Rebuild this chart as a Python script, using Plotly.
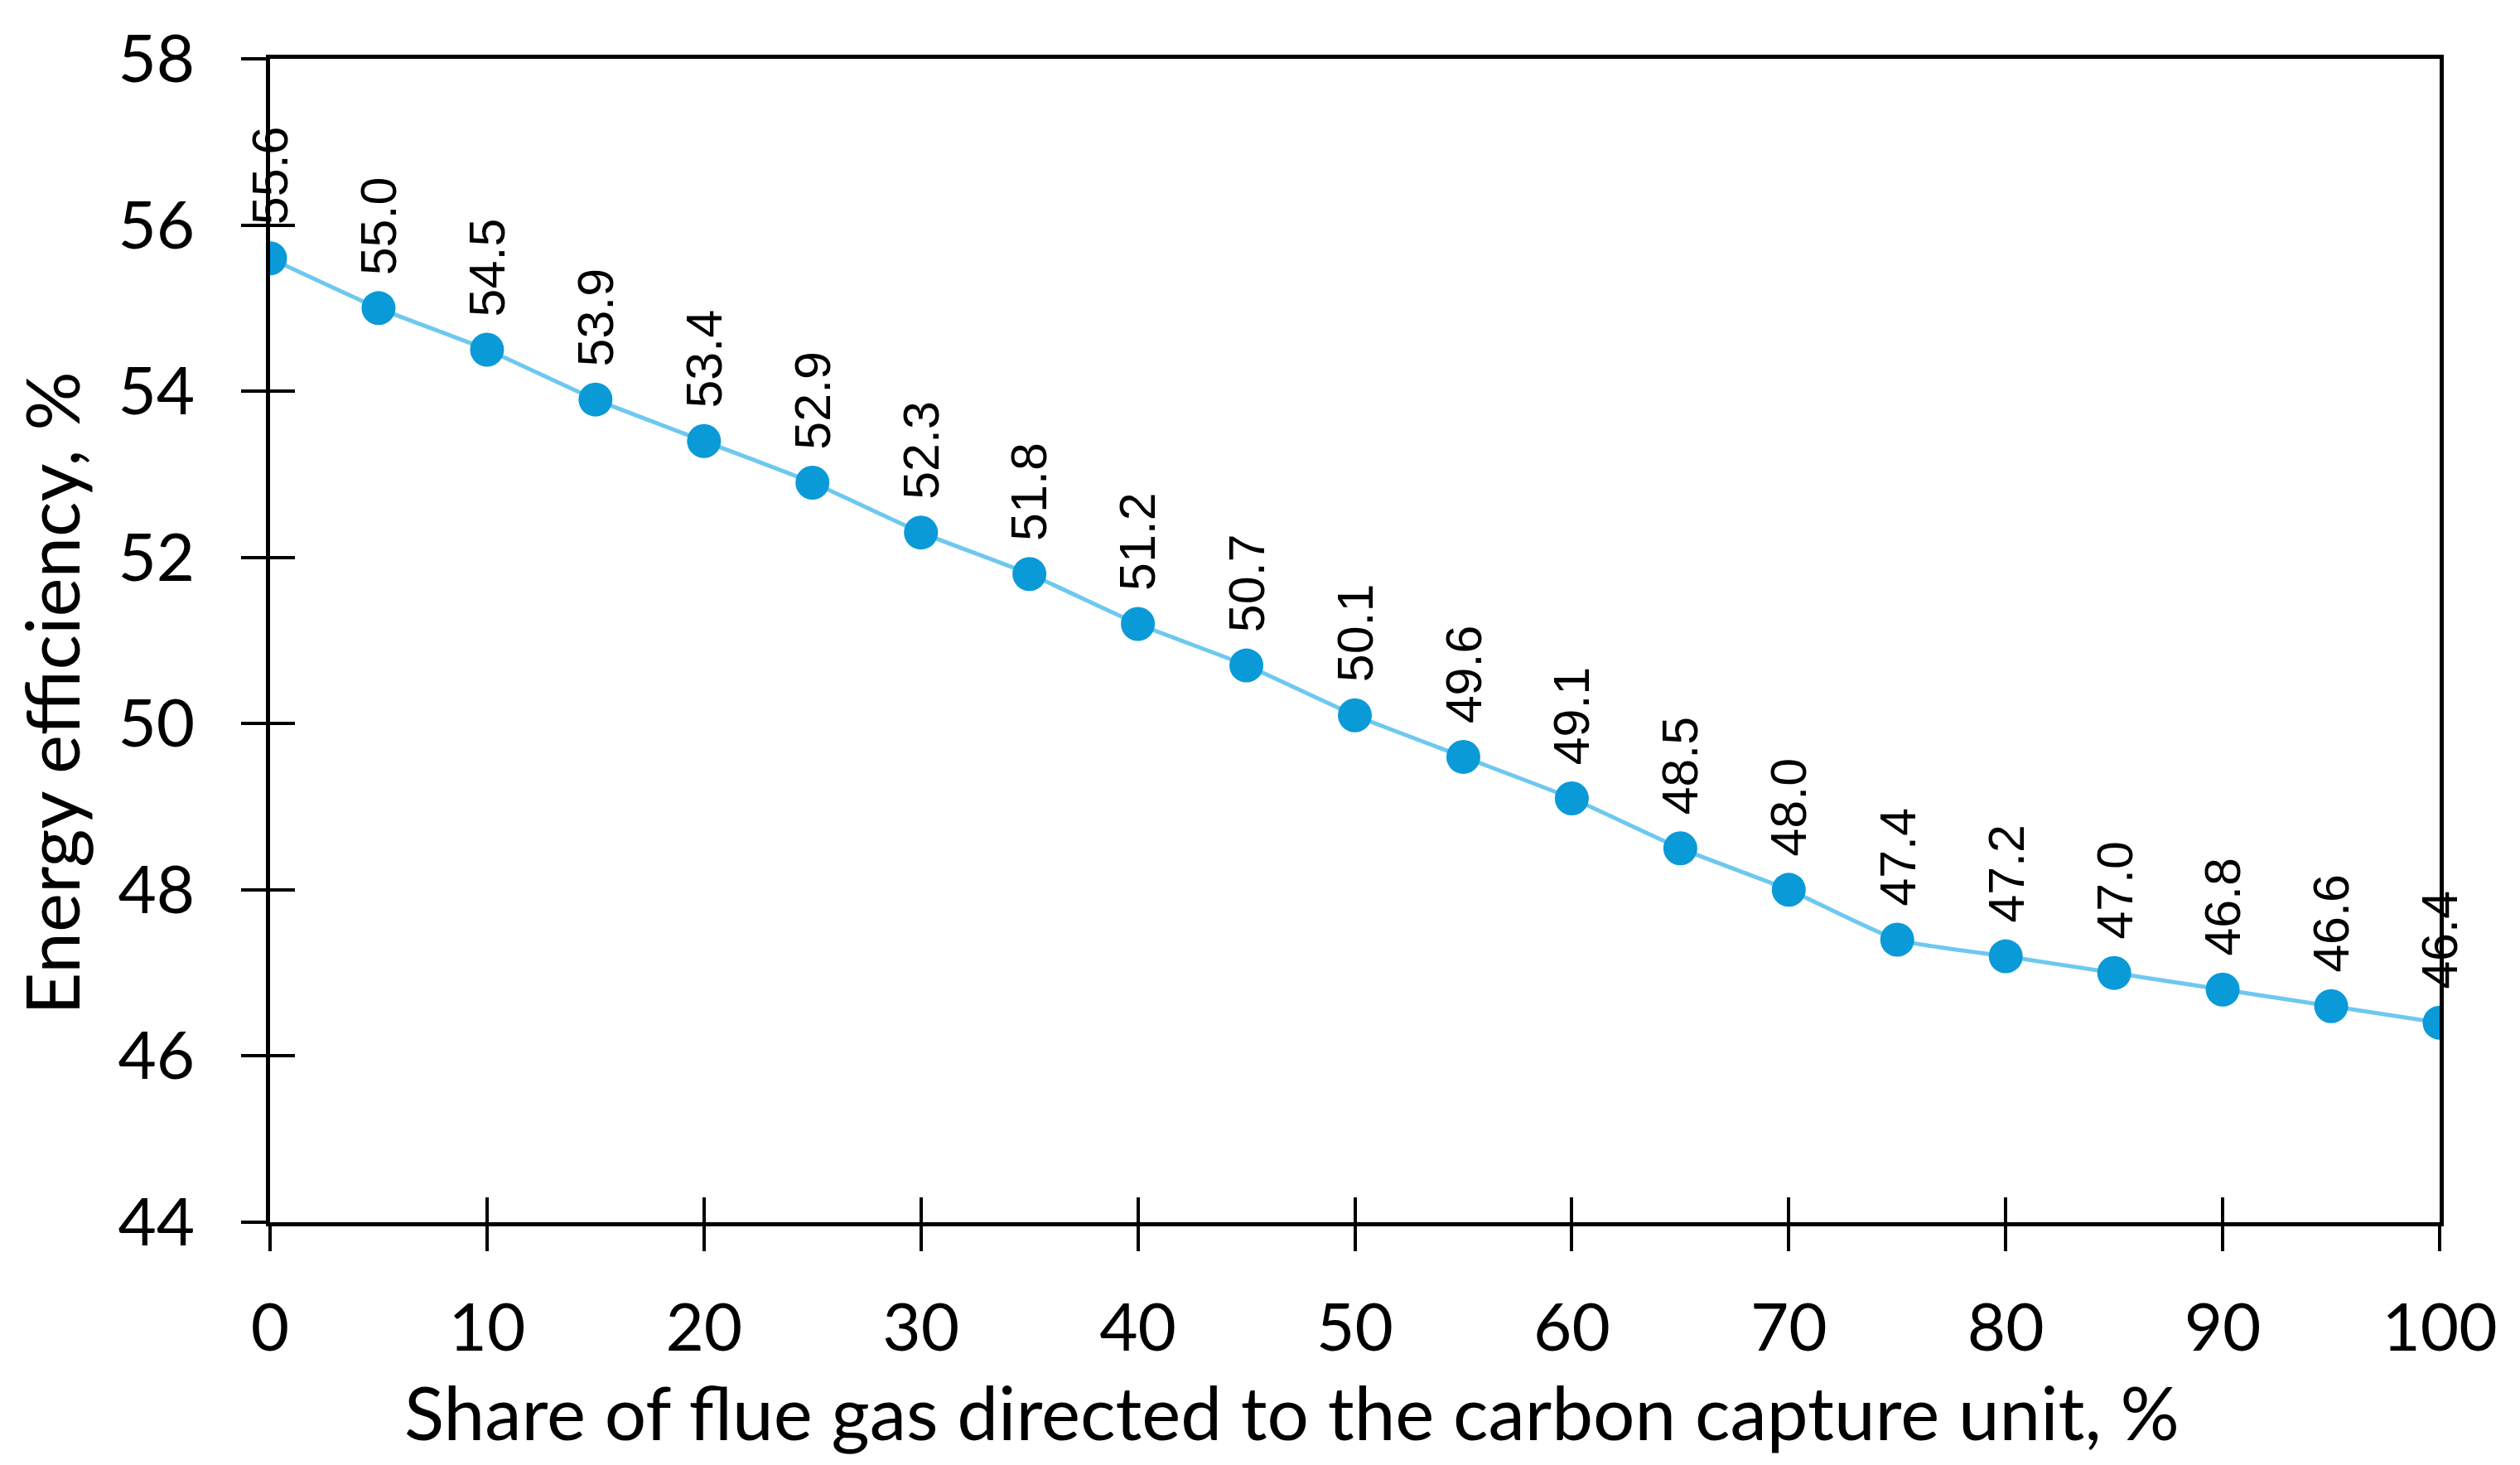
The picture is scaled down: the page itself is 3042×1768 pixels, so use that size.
import plotly.graph_objects as go

share = [0, 5, 10, 15, 20, 25, 30, 35, 40, 45, 50, 55, 60, 65, 70, 75, 80, 85, 90, 95, 100]
efficiency = [55.6, 55.0, 54.5, 53.9, 53.4, 52.9, 52.3, 51.8, 51.2, 50.7, 50.1,
              49.6, 49.1, 48.5, 48.0, 47.4, 47.2, 47.0, 46.8, 46.6, 46.4]
x_ticks = [0, 10, 20, 30, 40, 50, 60, 70, 80, 90, 100]
y_ticks = [44, 46, 48, 50, 52, 54, 56, 58]

x_title = "Share of flue gas directed to the carbon capture unit, %"
y_title = "Energy efficiency, %"

TICK_FONT = dict(family="Lato, Open Sans, sans-serif", size=80, color="black")
TITLE_FONT = dict(family="Lato, Open Sans, sans-serif", size=89, color="black")
LABEL_FONT = dict(family="Liberation Sans, Arial, sans-serif", size=61, color="black")

fig = go.Figure()
fig.add_trace(go.Scatter(
    x=share, y=efficiency, mode="lines+markers",
    line=dict(color="#6EC8EF", width=5, shape="spline", smoothing=0.5),
    marker=dict(color="#0A9AD8", size=41),
    showlegend=False, hoverinfo="x+y",
))
# invisible traces so the inside-tick overlay axes are drawn
fig.add_trace(go.Scatter(x=[share[0]], y=[efficiency[0]], xaxis="x2", yaxis="y",
                         mode="markers", marker=dict(opacity=0), showlegend=False,
                         hoverinfo="skip"))
fig.add_trace(go.Scatter(x=[share[0]], y=[efficiency[0]], xaxis="x", yaxis="y2",
                         mode="markers", marker=dict(opacity=0), showlegend=False,
                         hoverinfo="skip"))

for xv, yv in zip(share, efficiency):
    fig.add_annotation(x=xv, y=yv, text=f"{yv:.1f}", textangle=-90, showarrow=False,
                       xanchor="center", yanchor="bottom", yshift=38, font=LABEL_FONT)

# axis titles (offset from the axis centre, as in the original)
fig.add_annotation(xref="paper", yref="paper", x=0.471, y=0, yshift=-228,
                   xanchor="center", yanchor="middle", showarrow=False,
                   text=x_title, font=TITLE_FONT)
fig.add_annotation(xref="paper", yref="paper", x=0, y=0.4545, xshift=-264,
                   xanchor="center", yanchor="middle", showarrow=False, textangle=-90,
                   text=y_title, font=TITLE_FONT)

axis_common = dict(showgrid=False, zeroline=False, linecolor="black", linewidth=4.5,
                   tickcolor="black", tickwidth=4, ticklen=30, ticklabeloverflow="allow")
inside_common = dict(showgrid=False, zeroline=False, showline=False, showticklabels=False,
                     ticks="inside", tickcolor="black", tickwidth=4, ticklen=30)

fig.update_layout(
    width=3042, height=1768,
    margin=dict(l=318, r=105, t=50, b=301),
    paper_bgcolor="white", plot_bgcolor="white",
    xaxis=dict(range=[0, 100], tickvals=x_ticks, ticks="outside", showline=True, mirror=True,
               tickfont=TICK_FONT, ticklabelstandoff=24, **axis_common),
    yaxis=dict(range=[44, 58], tickvals=y_ticks, ticks="outside", showline=True, mirror=True,
               tickfont=TICK_FONT, ticklabelstandoff=40, **axis_common),
    xaxis2=dict(range=[0, 100], tickvals=x_ticks, overlaying="x", side="bottom", anchor="y",
                **inside_common),
    yaxis2=dict(range=[44, 58], tickvals=y_ticks, overlaying="y", side="left", anchor="x",
                **inside_common),
)

fig.write_html("out.html")
